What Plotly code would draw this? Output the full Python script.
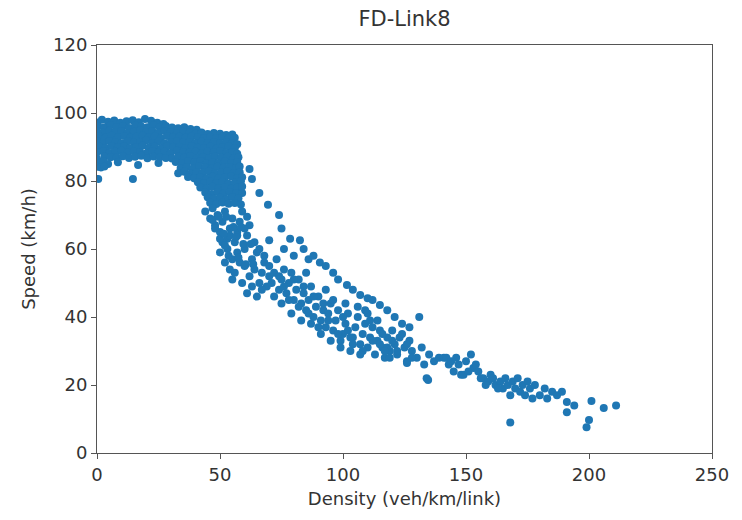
import plotly.graph_objects as go

# Free-flow band (densely packed)
band_density = [
    0, 2, 4.5, 7, 9.5, 12, 14.5, 17, 19.5, 22, 24.5, 27,
    0.5, 3, 5.5, 8, 10.5, 13, 15.5, 18, 20.5, 23, 25.5, 28, 30.5, 33, 35.5, 38, 40.5,
    0, 2.5, 5, 7.5, 10, 12.5, 15, 17.5, 20, 22.5, 25, 27.5, 30, 32.5, 35, 37.5, 40, 42.5, 45, 47.5, 50, 52.5, 55,
    1, 3.5, 6, 8.5, 11, 13.5, 16, 18.5, 21, 23.5, 26, 28.5, 31, 33.5, 36, 38.5, 41, 43.5, 46, 48.5, 51, 53.5, 56,
    0, 2.5, 5, 7.5, 10, 12.5, 15, 17.5, 20, 22.5, 25, 27.5, 30, 32.5, 35, 37.5, 40, 42.5, 45, 47.5, 50, 52.5, 55, 57,
    1, 3.5, 6, 8.5, 11, 13.5, 16, 18.5, 21, 23.5, 26, 28.5, 31, 33.5, 36, 38.5, 41, 43.5, 46, 48.5, 51, 53.5, 56,
    0, 2.5, 5, 7.5, 10, 12.5, 15, 17.5, 20, 22.5, 25, 27.5, 30, 32.5, 35, 37.5, 40, 42.5, 45, 47.5, 50, 52.5, 55, 57,
    0, 3, 5.5, 8, 10.5, 13, 15.5, 18, 20.5, 23, 25.5, 28, 30.5, 33, 35.5, 38, 40.5, 43, 45.5, 48, 50.5, 53, 55.5, 57.5,
    0.5, 2.5, 4.5, 32, 34.5, 37, 39.5, 42, 44.5, 47, 49.5, 52, 54.5, 57,
    0, 1.5, 3, 34, 36.5, 39, 41.5, 44, 46.5, 49, 51.5, 54, 56.5, 58,
    0.5, 14.6, 8.5, 16.7, 25,
    33, 35.5, 38, 40.5, 43, 45.5, 48, 50.5, 53, 55.5, 58,
    37, 39.5, 42, 44.5, 47, 49.5, 52, 54.5, 57, 59,
    41, 43.5, 46, 48.5, 51, 53.5, 56, 58.5,
    42, 44.5, 47, 49.5, 52, 54.5, 57, 59,
    44, 46.5, 49, 51.5, 54, 56.5, 59,
    45, 47.5, 50, 52.5, 55, 57.5,
    46, 48.5, 51, 53.5, 56, 58.5,
]
band_speed = [
    97.2, 98, 97.4, 97.8, 97.1, 97.6, 97.9, 97.3, 98.2, 97.7, 97.1, 96.8,
    96.1, 95.7, 96.4, 95.9, 96.2, 95.6, 96.3, 96.0, 95.8, 96.4, 95.9, 96.2, 95.7, 95.5, 95.8, 95.3, 95.1,
    94.6, 94.2, 94.8, 94.4, 94.7, 94.1, 94.5, 94.9, 94.3, 94.6, 94.2, 94.7, 94.4, 94.1, 94.5, 94.2, 94.0, 94.3, 93.8, 94.1, 93.9, 93.5, 93.7,
    93.1, 92.8, 93.3, 92.9, 93.2, 92.7, 93.0, 93.4, 92.8, 93.1, 92.6, 93.2, 92.9, 93.0, 92.7, 93.1, 92.8, 92.5, 92.9, 92.6, 93.0, 92.4, 92.7,
    91.6, 91.2, 91.8, 91.4, 91.1, 91.7, 91.3, 91.5, 91.9, 91.2, 91.6, 91.0, 91.4, 91.7, 91.3, 91.5, 91.1, 91.6, 91.2, 91.4, 91.0, 91.5, 91.2, 90.8,
    90.1, 89.7, 90.3, 89.9, 90.2, 89.6, 90.0, 90.4, 89.8, 90.1, 89.5, 90.2, 89.9, 90.0, 89.6, 90.3, 89.8, 89.7, 90.1, 89.5, 89.9, 90.2, 89.6,
    88.4, 88.8, 88.2, 88.6, 88.9, 88.3, 88.7, 88.5, 88.1, 88.8, 88.4, 88.6, 88.2, 88.9, 88.5, 88.3, 88.7, 88.1, 88.6, 88.4, 88.8, 88.2, 88.5, 88.0,
    86.5, 87.2, 87.0, 86.9, 87.3, 86.8, 87.1, 87.4, 86.7, 87.2, 87.0, 86.8, 86.6, 87.1, 86.9, 87.3, 86.7, 87.0, 86.8, 87.2, 86.9, 87.1, 86.6, 87.0,
    85.3, 85.8, 85.0, 85.6, 85.2, 85.7, 85.4, 85.9, 85.1, 85.5, 85.3, 85.8, 85.2, 85.6,
    84.2, 84.0, 84.3, 83.8, 84.1, 83.7, 84.4, 84.0, 83.6, 84.2, 83.9, 84.1, 83.8, 84.3,
    80.6, 80.6, 85.5, 84.7, 85.3,
    82.3, 82.7, 82.1, 82.6, 82.4, 82.8, 82.2, 82.5, 82.9, 82.3, 82.6,
    81.2, 80.8, 81.1, 80.7, 81.3, 80.9, 81.0, 81.4, 80.8, 81.1,
    79.6, 79.3, 79.8, 79.4, 79.7, 79.2, 79.5, 79.9,
    78.1, 77.8, 78.3, 77.9, 78.2, 77.7, 78.0, 78.4,
    76.6, 76.2, 76.8, 76.4, 76.7, 76.3, 76.5,
    75.2, 74.8, 75.1, 74.7, 75.3, 74.9,
    73.6, 73.2, 73.7, 73.3, 73.5, 73.1,
]

# Transition region
trans_density = [44, 46, 47, 48, 49, 50, 51, 52, 53, 54, 55, 56, 57, 58, 59, 57, 55, 53, 51, 50,
                 52, 54, 55, 58, 60, 61, 62, 60, 62, 63, 64, 65, 66, 67, 68, 69, 70, 56, 59, 61,
                 63, 65, 67, 57, 60, 64, 66, 68, 48, 50, 52,
                 47, 49.5, 52.5, 55.5, 58.5, 61, 54, 56.5, 59.5, 62.5, 57.5, 60.5, 63.5, 51.5, 53.5]
trans_speed = [71, 69, 72, 67, 70, 65, 68, 71, 63, 66, 69, 62, 65, 68, 71, 59, 57, 60, 62, 59,
               56, 54, 51, 56, 60, 64, 67, 55, 52, 57, 54, 59, 50, 53, 56, 49, 52, 53, 50, 47,
               49, 46, 48, 64, 66, 62, 60, 58, 66, 63, 61,
               68.5, 69.5, 69.5, 66.5, 66.5, 69.5, 64, 63.5, 61.5, 61.5, 57.5, 55.5, 55.5, 64.5, 58]

# Upper congested branch
upper_density = [62, 63, 66, 69.5, 74, 75, 70, 78.5, 82.5, 76, 80, 84, 86, 88, 90.6, 93, 96, 98,
                 101.6, 104, 107, 110, 112, 115, 118, 121, 124, 127]
upper_speed = [83.5, 80.6, 76.5, 73, 70, 66, 62.6, 63, 62.6, 60, 58, 60, 57, 58, 56, 55, 53, 51,
               49.4, 48, 46.5, 45.5, 45, 43.5, 42, 40, 38, 37]

# Lower congested band
lower_density = [70, 71, 72, 73, 74, 75, 76, 77, 78, 79, 80, 81, 82, 83, 84, 85, 86, 87, 88, 89,
                 90, 91, 92, 93, 94, 95, 96, 97, 98, 99, 100, 101, 102, 103, 104, 105, 106, 107,
                 108, 109, 110, 111, 112, 113, 114, 115, 116, 117, 118, 119, 120, 121, 122, 123,
                 125, 126, 127, 128, 130,
                 72, 74, 76, 78, 80, 82, 84, 86, 88, 90, 92, 94, 96, 98, 100, 102, 104, 106, 108,
                 110, 112, 114, 116, 118, 120, 122, 124, 126, 128, 75, 79, 83, 87, 91, 95, 99, 103,
                 107, 111, 115, 119, 85, 93, 101, 109]
lower_speed = [55, 50, 53, 57, 48, 51, 54, 47, 50, 53, 45, 48, 51, 44, 47, 42, 45, 49, 40, 43,
               46, 39, 42, 37, 41, 44, 36, 39, 42, 33, 35, 38, 41, 30, 34, 37, 40, 32,
               35, 38, 31, 34, 37, 29, 33, 36, 31, 28, 34, 30, 36, 32, 29, 34,
               31, 27, 33, 30, 28,
               46, 52, 49, 45, 51, 43, 49, 41, 46, 37, 44, 39, 45, 35, 40, 36, 32, 43, 30,
               41, 33, 39, 35, 31, 33, 30, 35, 32, 28, 44, 41, 39, 38, 35, 33, 31, 34,
               29, 39, 32, 28, 53, 48, 44, 42]

# Heavy congestion tail
tail_density = [131, 132, 133, 134, 135, 137, 139, 141, 143, 145, 146, 148, 150, 152, 153, 155, 157,
                159, 160, 162, 164, 165, 166, 167, 168, 168, 169, 170, 171, 172, 173, 174, 175, 176,
                177, 178, 180, 182, 183, 185, 187, 189, 191, 191, 194, 199, 200, 201, 206, 211,
                142, 144, 147, 149, 151, 154, 156, 158, 161, 163, 117, 126, 134.6]
tail_speed = [40, 31, 26, 22, 29, 27, 28, 28, 26, 24, 28, 23, 27, 29, 25, 24, 22,
              21, 23, 20, 21, 19, 22, 20, 17, 9, 21, 19, 22, 18, 20, 17, 21, 19,
              16, 20, 17, 19, 16, 18, 17, 18, 15, 12, 14, 7.6, 9.7, 15.3, 13.2, 14,
              28, 27, 26, 23, 24, 26, 22, 20, 22, 19, 30, 26.5, 21.5]

density = band_density + trans_density + upper_density + lower_density + tail_density
speed = band_speed + trans_speed + upper_speed + lower_speed + tail_speed

fig = go.Figure(go.Scatter(
    x=density, y=speed, mode="markers",
    marker=dict(color="#1f77b4", size=8, line=dict(width=0)),
))

font_family = "DejaVu Sans"
axis_common = dict(
    showline=True, linecolor="#555555", linewidth=1, mirror=True,
    ticks="outside", ticklen=5, tickcolor="#555555",
    showgrid=False, zeroline=False,
    tickfont=dict(size=18, color="#333333", family=font_family),
)
fig.update_layout(
    width=742, height=520,
    margin=dict(l=97, r=30, t=45, b=67),
    paper_bgcolor="white", plot_bgcolor="white",
    showlegend=False,
    title=dict(text="FD-Link8", x=0.5, xanchor="center", xref="paper",
               y=0.965, yanchor="middle",
               font=dict(size=21, color="#333333", family=font_family)),
    xaxis=dict(range=[0, 250], tickvals=[0, 50, 100, 150, 200, 250],
               title=dict(text="Density (veh/km/link)", standoff=8,
                          font=dict(size=18, color="#333333", family=font_family)),
               **axis_common),
    yaxis=dict(range=[0, 120], tickvals=[0, 20, 40, 60, 80, 100, 120],
               title=dict(text="Speed (km/h)", standoff=12,
                          font=dict(size=18, color="#333333", family=font_family)),
               **axis_common),
)

fig.write_html("out.html")
